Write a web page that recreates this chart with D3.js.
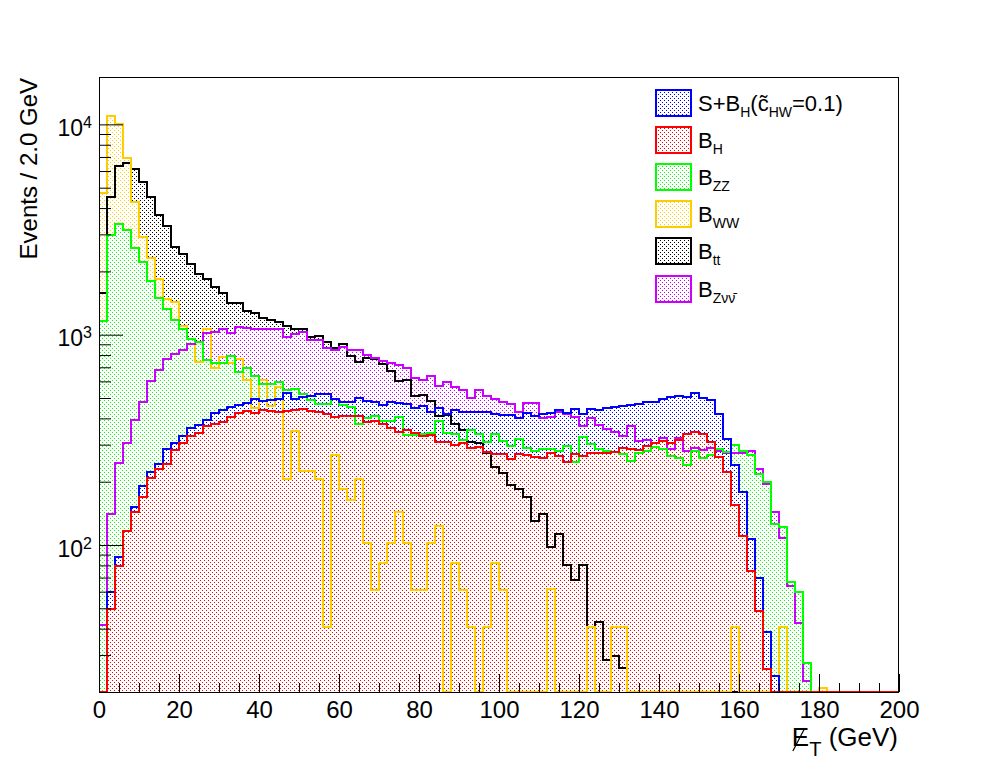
<!DOCTYPE html>
<html><head><meta charset="utf-8">
<script src="https://cdn.jsdelivr.net/npm/d3@7"></script>
<style>
html,body{margin:0;padding:0;background:#fff;}
svg{display:block;font-family:"Liberation Sans",Arial,Helvetica,sans-serif;}
</style></head><body>
<svg id="c" width="998" height="771"></svg>
<script>
// ---- data (events per 2 GeV bin, 100 bins from 0 to 200 GeV) ----
const binWidth = 2;
const xRange = [0, 200];
const xTickLabels = [0, 20, 40, 60, 80, 100, 120, 140, 160, 180, 200];
const yTickLabels = [100, 1000, 10000];

const tt = [1580,4540,6310,6550,6150,5300,4540,3720,3300,2600,
 2430,2160,1940,1830,1690,1570,1410,1410,1300,1270,
 1200,1180,1150,1105,1070,1060,973,983,920,866,
 907,789,745,773,767,726,670,601,608,510,
 514,483,410,414,378,351,308,304,273,235,
 219,193,184,169,130,141,98,113,80,68,
 80.5,40.7,43.2,28.5,29.8,26.1,0,0,0,0,
 0,0,0,0,0,0,0,0,0,0,
 0,0,0,0,0,0,0,0,0,0,
 0,0,0,0,0,0,0,0,0,0];

const ww = [4700,10970,10050,6950,4255,2930,2307,1830,1486,1438,
 1097,958,740,1060,695,781,735,767,612,449,
 612,457,561,205,348,225,225,205,40.6,267,
 185,164,205,102,61.2,82,102,144,102,61.2,
 61.2,102,123,0,82,61.2,40.7,0,40.7,82,
 61.2,0,0,0,0,0,61.7,0,0,0,
 0,40.9,0,0,40.9,40.9,0,0,0,0,
 0,0,0,0,0,0,0,0,0,40.9,
 0,0,0,0,0,40.9,0,0,0,0,
 21,0,0,0,0,0,0,0,0,0];

const zz = [1160,2990,3370,3130,2585,2210,1795,1496,1318,1180,
 1060,958,920,754,735,735,789,666,693,635,
 586,586,594,545,549,525,488,470,470,492,
 461,454,378,400,410,388,388,407,333,333,
 337,340,388,340,338,315,352,338,308,338,
 312,295,318,290,280,285,285,280,295,248,
 326,301,285,280,277,272,250,275,280,292,
 287,265,260,239,280,258,268,285,277,299,
 280,267,217,199,126,122,66.4,59.9,27.5,0,
 0,0,0,0,0,0,0,0,0,0];

const sb = [0,59.5,87.3,117,152,191,223,244,287,304,
 330,361,374,395,426,438,454,461,471,492,
 483,488,492,530,496,506,510,520,520,492,
 478,481,499,483,478,461,478,471,466,446,
 457,428,449,418,438,428,428,428,428,418,
 414,413,403,422,410,418,422,438,422,444,
 418,441,438,446,452,457,462,470,478,478,
 492,505,510,505,528,498,488,421,318,239,
 179,107,69.8,38.7,23.9,0,0,0,0,0,
 0,0,0,0,0,0,0,0,0,0];

const bh = [0,49.6,79.6,117,144,169,208,229,244,282,
 304,330,342,367,377,386,405,422,433,426,
 438,433,428,433,438,444,433,428,418,407,
 410,410,410,386,388,377,361,346,351,342,
 330,332,308,308,299,304,290,293,277,270,
 272,257,270,268,262,260,273,265,248,270,
 265,273,273,273,277,288,285,282,295,304,
 312,304,315,336,344,338,310,263,222,155,
 110,75.1,48.7,25.7,0,0,0,0,0,0,
 0,0,0,0,0,0,0,0,0,0];

const znn = [41.8,141,246,304,395,480,601,683,767,813,
 850,904,920,1021,1032,1060,1021,1086,1078,1060,
 1060,1060,1060,973,1010,1035,940,947,866,850,
 871,843,843,805,776,748,735,721,695,624,
 608,635,573,594,565,545,501,545,510,492,
 478,466,428,471,471,400,405,428,418,405,
 370,400,374,358,344,330,370,312,315,304,
 321,285,321,280,288,283,290,280,275,275,
 275,280,229,196,144,108,64,42.6,22.6,0,
 0,0,0,0,0,0,0,0,0,0];

// ---- styles ----
const colors = {sb:"#0000ff", bh:"#ff0000", zz:"#00ff00", ww:"#ffcc00", tt:"#000000", znn:"#cc00ff"};
const drawOrder = [["tt",tt],["ww",ww],["znn",znn],["zz",zz],["sb",sb],["bh",bh]];
const legendEntries = [
  ["sb", [["S+B"],["H","sub"],["(c\u0303"],["HW","sub"],["=0.1)"]]],
  ["bh", [["B"],["H","sub"]]],
  ["zz", [["B"],["ZZ","sub"]]],
  ["ww", [["B"],["WW","sub"]]],
  ["tt", [["B"],["tt","sub"]]],
  ["znn",[["B"],["Z\u03bd\u03bd\u0304","sub"]]]
];

const svg = d3.select("#c");
const x = d3.scaleLinear().domain(xRange).range([99, 899]);
const yMin = 20, yMax = 16800;
const y = d3.scaleLog().domain([yMin, yMax]).range([692, 77]);
const yBottom = y(yMin);

const defs = svg.append("defs");
defs.append("clipPath").attr("id","clip").append("rect")
  .attr("x",99).attr("y",77).attr("width",800).attr("height",618);

// dotted (ROOT-like) fill: 1px dots on a 4x4 grid, rows offset by 2px
function dotsIn(x0, x1, ya, yb, out){
  for (let py = Math.ceil(ya); py < yb; py++){
    const m = ((py % 4) + 4) % 4;
    if (m !== 0 && m !== 2) continue;
    let px = x0 + (((m - x0) % 4) + 4) % 4;
    for (; px < x1; px += 4) out.push("M" + px + "," + py + "h1v1h-1z");
  }
}

function stepPoints(vals){
  const pts = [[xRange[0], 0]];
  vals.forEach((v,i) => { const lo = xRange[0] + i*binWidth; pts.push([lo,v],[lo+binWidth,v]); });
  pts.push([xRange[1], 0]);
  return pts;
}
const yv = v => v >= yMin ? y(v) : yBottom;
const line = d3.line().x(d => x(d[0])).y(d => yv(d[1]));

// visible dot region of each fill (later fills overwrite earlier ones on the same grid)
const nB = tt.length;
const dotLists = drawOrder.map(() => []);
for (let i = 0; i < nB; i++){
  const x0 = Math.round(x(xRange[0] + i*binWidth)), x1 = Math.round(x(xRange[0] + (i+1)*binWidth));
  const tops = drawOrder.map(([k, vals]) => vals[i] >= yMin ? y(vals[i]) : null);
  for (let k = 0; k < drawOrder.length; k++){
    if (tops[k] === null) continue;
    let lim = yBottom;
    for (let j = k+1; j < drawOrder.length; j++) if (tops[j] !== null) lim = Math.min(lim, tops[j]);
    const ya = Math.max(tops[k], 78), yb = Math.min(lim, 692);
    if (yb > ya) dotsIn(Math.max(x0, 100), x1, ya, yb, dotLists[k]);
  }
}

const plot = svg.append("g").attr("clip-path","url(#clip)");
drawOrder.forEach(([k], idx) => {
  plot.append("path").attr("d", dotLists[idx].join("")).attr("fill", colors[k])
    .attr("shape-rendering","crispEdges");
});
drawOrder.forEach(([k, vals]) => {
  plot.append("path").attr("d", line(stepPoints(vals))).attr("fill","none").attr("stroke",colors[k])
    .attr("stroke-width",2).attr("shape-rendering","crispEdges");
});

// frame
svg.append("rect").attr("x",99.5).attr("y",77.5).attr("width",799).attr("height",615)
  .attr("fill","none").attr("stroke","#000").attr("stroke-width",1);

// x axis
const minorX = d3.range(0, 201, 5).filter(v => v % 20 !== 0);
const gxMinor = svg.append("g").attr("transform","translate(0,692)")
  .call(d3.axisBottom(x).tickValues(minorX).tickSizeInner(-9).tickSizeOuter(0).tickFormat(() => ""));
const gx = svg.append("g").attr("transform","translate(0,692)")
  .call(d3.axisBottom(x).tickValues(xTickLabels).tickSizeInner(-18).tickSizeOuter(0).tickPadding(9));
[gxMinor, gx].forEach(g => { g.select(".domain").remove(); g.selectAll("line").attr("stroke","#000"); });
gx.selectAll("text").attr("font-size",24).attr("fill","#000")
  .attr("font-family","Liberation Sans, Arial, sans-serif");

// y axis
const minorY = [];
[10,100,1000].forEach(d => { for (let m=2;m<=9;m++){ const v=m*d; if (v>yMin && v<yMax) minorY.push(v);} });
const gyMinor = svg.append("g").attr("transform","translate(99,0)")
  .call(d3.axisLeft(y).tickValues(minorY).tickSizeInner(-12).tickSizeOuter(0).tickFormat(() => ""));
const gy = svg.append("g").attr("transform","translate(99,0)")
  .call(d3.axisLeft(y).tickValues(yTickLabels).tickSizeInner(-24).tickSizeOuter(0).tickPadding(7));
[gyMinor, gy].forEach(g => { g.select(".domain").remove(); g.selectAll("line").attr("stroke","#000"); });
gy.selectAll("text").each(function(d){
  const t = d3.select(this).text(null).attr("dy", 11).attr("fill","#000")
    .attr("font-family","Liberation Sans, Arial, sans-serif").attr("font-size",23);
  t.append("tspan").text("10");
  t.append("tspan").attr("font-size",16).attr("dy",-8).text(String(Math.round(Math.log10(d))));
});

// axis titles
svg.append("text").attr("transform","translate(37,78) rotate(-90)")
  .attr("text-anchor","end").attr("font-size",24).attr("fill","#000").text("Events / 2.0 GeV");
const xt = svg.append("text").attr("x",898).attr("y",746).attr("text-anchor","end")
  .attr("font-size",26).attr("fill","#000");
xt.append("tspan").text("E");
xt.append("tspan").attr("font-size",20).attr("dy",10).text("T");
xt.append("tspan").attr("dy",-10).text(" (GeV)");
const ep = xt.node().getStartPositionOfChar(0);
svg.append("line").attr("x1",ep.x+1).attr("y1",751).attr("x2",ep.x+13).attr("y2",728)
  .attr("stroke","#000").attr("stroke-width",1.2);

// legend
const lg = svg.append("g");
legendEntries.forEach(([k, parts], i) => {
  const top = Math.round(90 + i*37.1);
  const dl = [];
  dotsIn(657, 691, top+1, top+26, dl);
  lg.append("path").attr("d", dl.join("")).attr("fill", colors[k]).attr("shape-rendering","crispEdges");
  lg.append("rect").attr("x",656).attr("y",top).attr("width",35).attr("height",26)
    .attr("fill","none").attr("stroke",colors[k]).attr("stroke-width",2);
  const t = lg.append("text").attr("x",698).attr("y",top+20.7).attr("font-size",22).attr("fill","#000");
  let shifted = false;
  parts.forEach(([s, kind]) => {
    const sp = t.append("tspan").text(s);
    if (kind === "sub") { sp.attr("font-size",14).attr("dy",6); shifted = true; }
    else if (shifted) { sp.attr("dy",-6); shifted = false; }
  });
});
</script>
</body></html>
